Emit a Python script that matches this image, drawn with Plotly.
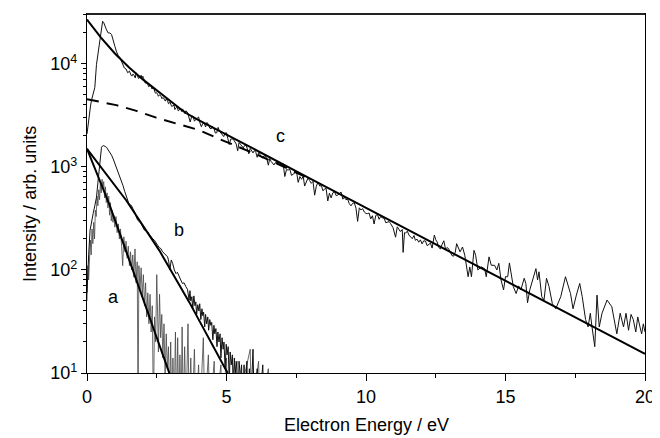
import math
import plotly.graph_objects as go

# ---------------- data ----------------
# spectrum c : (energy eV, intensity)
SPEC_C = [
    (0.00, 2090), (0.04, 2630), (0.08, 3470), (0.13, 3980), (0.17, 4540), (0.22, 5250),
    (0.28, 5890), (0.34, 9890), (0.40, 12600), (0.44, 15500), (0.48, 18600), (0.52, 22400),
    (0.56, 25900), (0.60, 25100), (0.64, 23200), (0.70, 21400), (0.76, 19950), (0.82, 19950),
    (0.88, 19300), (0.94, 17300), (1.00, 14800), (1.05, 13300), (1.12, 12000), (1.18, 11500),
    (1.23, 10700), (1.29, 9770), (1.34, 9120), (1.40, 8910), (1.46, 8200), (1.52, 8510),
    (1.58, 7760), (1.64, 7940), (1.70, 7590), (1.76, 8200), (1.82, 7590), (1.88, 7350),
    (1.94, 7760), (2.00, 7590), (2.06, 6920), (2.12, 6560), (2.18, 6310), (2.24, 6100),
    (2.30, 6170), (2.36, 5880), (2.42, 5500), (2.48, 5250), (2.53, 5070), (2.60, 5010),
    (2.66, 4790), (2.71, 4700), (2.78, 4470), (2.84, 4570), (2.89, 4370), (2.95, 4170),
    (3.00, 4070), (3.07, 3910), (3.12, 3980), (3.18, 3720), (3.24, 3770), (3.30, 3550),
    (3.36, 3720), (3.42, 3630), (3.48, 3390), (3.54, 3500),
    (1.55, 8000), (1.61, 7600), (1.67, 7900), (1.73, 7300), (1.79, 7900), (1.85, 7200),
    (1.91, 7500), (1.97, 7300), (2.03, 7200), (2.09, 6500), (2.15, 6500), (2.21, 6000),
    (2.27, 6200), (2.33, 5700), (2.39, 5800), (2.45, 5200), (2.51, 5200), (2.56, 4850),
    (2.63, 4950), (2.69, 4600), (2.75, 4650), (2.81, 4350), (2.87, 4500), (2.92, 4100),
    (2.98, 4250), (3.04, 3850), (3.10, 4000), (3.15, 3600), (3.21, 3800), (3.27, 3500),
    (3.33, 3700), (3.39, 3450), (3.45, 3600), (3.51, 3300), (3.57, 3450),
    (3.6, 3400), (3.7, 2730), (3.8, 3105), (3.9, 2870), (4.0, 3050), (4.1, 2450),
    (4.2, 2660), (4.3, 2700), (4.4, 2380), (4.5, 2470), (4.6, 2130), (4.7, 2420),
    (4.8, 2140), (4.9, 1970), (5.0, 2140), (5.1, 1650), (5.2, 1870), (5.3, 1730),
    (5.4, 1430), (5.5, 1660), (5.6, 1530), (5.7, 1630), (5.8, 1340), (5.9, 1455),
    (6.0, 1440), (6.1, 1240), (6.2, 1320), (6.3, 1220), (6.4, 1260), (6.5, 1040),
    (6.6, 1130), (6.7, 1045), (6.8, 1110),
    (3.65, 3045), (3.75, 3085), (3.85, 2786), (3.95, 2956), (4.05, 2670), (4.15, 2643),
    (4.25, 2443), (4.35, 2593), (4.45, 2341), (4.55, 2373), (4.65, 2143), (4.75, 2222),
    (4.85, 2054), (4.95, 2129), (5.05, 1879), (5.15, 1861), (5.25, 1843), (5.35, 1667),
    (5.45, 1726), (5.55, 1595), (5.65, 1616), (5.75, 1494), (5.85, 1514), (5.95, 1367),
    (6.05, 1385), (6.15, 1372), (6.25, 1239), (6.35, 1285), (6.45, 1187), (6.55, 1204),
    (6.65, 1087), (6.75, 1101),
    (6.86, 1096), (6.98, 1052), (7.09, 807), (7.21, 933), (7.33, 828), (7.45, 889),
    (7.57, 708), (7.69, 759), (7.80, 652), (7.92, 780), (8.04, 693), (8.16, 532),
    (8.28, 714), (8.40, 658), (8.51, 610), (8.63, 467), (8.75, 500), (8.87, 575),
    (8.99, 533), (9.11, 569), (9.22, 509), (9.34, 488), (9.46, 419), (9.58, 448),
    (9.70, 296), (9.82, 382), (9.94, 365), (10.05, 352), (10.17, 313), (10.29, 279),
    (10.41, 346), (10.53, 331), (10.65, 318), (10.77, 293), (10.88, 282), (11.06, 208),
    (11.18, 248), (11.26, 239), (11.33, 148), (11.42, 228), (11.54, 218), (11.66, 201),
    (11.77, 194), (11.89, 186), (12.01, 179), (12.13, 191), (12.25, 176), (12.37, 163),
    (12.45, 218), (12.55, 187), (12.67, 160), (12.79, 192), (12.90, 165), (13.02, 147),
    (13.14, 136),
    (6.92, 1042), (7.03, 1076), (7.15, 943), (7.27, 950), (7.39, 852), (7.51, 898),
    (7.63, 806), (7.75, 811), (7.86, 731), (7.98, 736), (8.10, 723), (8.22, 649),
    (8.34, 653), (8.46, 586), (8.57, 619), (8.69, 556), (8.81, 560), (8.93, 526),
    (9.05, 555), (9.17, 486), (9.28, 480), (9.40, 440), (9.52, 443), (9.64, 398),
    (9.76, 401), (9.88, 394), (10.00, 353), (10.11, 357), (10.23, 336), (10.35, 338),
    (10.47, 310), (10.59, 319), (10.71, 287), (10.83, 295), (10.97, 257), (11.12, 262),
    (11.22, 237), (11.30, 247), (11.38, 230), (11.48, 238), (11.60, 209), (11.72, 216),
    (11.83, 199), (11.95, 196), (12.07, 192), (12.19, 172), (12.31, 182), (12.41, 184),
    (12.50, 196), (12.61, 165), (12.73, 178), (12.85, 159), (12.96, 161), (13.08, 138),
    (13.20, 149),
    (13.25, 180), (13.37, 150), (13.46, 167), (13.54, 139), (13.66, 86), (13.72, 107),
    (13.78, 86), (13.87, 155), (13.93, 139), (14.01, 100), (14.13, 107), (14.25, 103),
    (14.31, 86), (14.41, 134), (14.49, 111), (14.61, 111), (14.69, 100), (14.76, 116),
    (14.84, 80), (14.93, 64), (15.00, 86), (15.08, 86), (15.14, 117), (15.20, 92),
    (15.28, 69), (15.38, 59), (15.47, 70), (15.55, 64), (15.67, 83), (15.73, 74),
    (15.79, 48), (15.87, 64), (15.97, 80), (16.09, 103), (16.15, 80), (16.20, 96),
    (16.30, 55), (16.38, 51), (16.47, 83), (16.56, 69), (16.68, 47), (16.80, 42),
    (16.98, 55), (17.15, 86), (17.33, 59), (17.42, 42), (17.54, 57), (17.66, 74),
    (17.75, 55), (17.87, 33), (17.96, 28), (18.04, 38), (18.10, 28), (18.20, 18),
    (18.28, 57), (18.36, 28), (18.46, 38), (18.64, 51), (18.81, 44), (18.99, 24),
    (19.11, 38), (19.23, 28), (19.32, 38), (19.41, 26), (19.50, 37), (19.58, 33),
    (19.67, 25), (19.74, 35), (19.82, 28), (19.88, 24), (19.94, 30), (20.00, 25),
]

# spectrum b
SPEC_B = [
    (0.00, 60), (0.03, 110), (0.06, 140), (0.11, 243), (0.16, 300), (0.22, 352),
    (0.28, 420), (0.34, 508), (0.39, 700), (0.44, 920), (0.48, 1200), (0.52, 1550),
    (0.56, 1600), (0.60, 1607), (0.65, 1580), (0.70, 1550), (0.76, 1460), (0.82, 1384),
    (0.88, 1300), (0.94, 1194), (1.00, 1080), (1.05, 991), (1.11, 900), (1.17, 824),
    (1.23, 740), (1.29, 659), (1.35, 580), (1.41, 508), (1.46, 470), (1.50, 440),
    (1.55, 430), (1.59, 423), (1.65, 390), (1.71, 364), (1.76, 330), (1.82, 303),
    (1.88, 295), (1.94, 281), (2.00, 260), (2.06, 243), (2.12, 240), (2.18, 233),
    (2.24, 220), (2.30, 209), (2.36, 200), (2.42, 194), (2.48, 180), (2.53, 174),
    (2.59, 165), (2.65, 161), (2.71, 150), (2.77, 144), (2.83, 140), (2.89, 134),
    (2.93, 120), (2.97, 100), (3.02, 125), (3.07, 116), (3.13, 100), (3.19, 92),
    (3.24, 95), (3.30, 86), (3.36, 80), (3.42, 74), (3.48, 75), (3.54, 69),
    (3.60, 65), (3.66, 51), (3.69, 63), (3.72, 50), (3.76, 55), (3.79, 42),
    (3.83, 56), (3.87, 45), (3.90, 49), (3.93, 37), (3.97, 46), (4.01, 40),
    (4.04, 47), (4.08, 33), (4.12, 42), (4.15, 36), (4.18, 39), (4.22, 28),
    (4.25, 37), (4.29, 30), (4.33, 35), (4.36, 26), (4.40, 33), (4.44, 29),
    (4.47, 31), (4.51, 21), (4.55, 29), (4.58, 24), (4.62, 27), (4.66, 18),
    (4.69, 25), (4.73, 20), (4.77, 24), (4.80, 14), (4.84, 22), (4.88, 17),
    (4.91, 20), (4.95, 11), (4.99, 19), (5.02, 15), (5.06, 18), (5.10, 8),
    (5.13, 16), (5.17, 12), (5.21, 15), (5.25, 6), (5.28, 14), (5.33, 10),
    (5.37, 13), (5.41, 4), (5.45, 13), (5.50, 9), (5.54, 12), (5.58, 4),
    (5.63, 12), (5.67, 4), (5.73, 13), (5.77, 4), (5.82, 11), (5.86, 4),
    (5.95, 17), (6.00, 4), (6.10, 11), (6.15, 4), (6.30, 12), (6.35, 4),
]

# spectrum a
SPEC_A = [
    (0.00, 50), (0.03, 110), (0.06, 80), (0.09, 160), (0.12, 195), (0.15, 140),
    (0.18, 250), (0.21, 180), (0.24, 290), (0.27, 200), (0.30, 380), (0.33, 330),
    (0.36, 520), (0.39, 420), (0.42, 600), (0.45, 480), (0.48, 700), (0.51, 560),
    (0.54, 760), (0.57, 620), (0.60, 720), (0.63, 500), (0.66, 640), (0.69, 450),
    (0.72, 560), (0.75, 400), (0.78, 520), (0.81, 340), (0.84, 450), (0.87, 300),
    (0.90, 380), (0.93, 290), (0.96, 340), (1.00, 260), (1.04, 330), (1.08, 230),
    (1.12, 280), (1.16, 200), (1.20, 250), (1.24, 170), (1.28, 110), (1.32, 210),
    (1.36, 150), (1.40, 190), (1.44, 130), (1.48, 170), (1.52, 110), (1.56, 150),
    (1.60, 100), (1.64, 140), (1.68, 85), (1.72, 160), (1.76, 75), (1.80, 120),
    (1.83, 4), (1.86, 110), (1.90, 65), (1.94, 105), (1.98, 55), (2.02, 90),
    (2.06, 45), (2.10, 75), (2.14, 35), (2.18, 60), (2.22, 30), (2.26, 58),
    (2.30, 25), (2.34, 45), (2.38, 4), (2.42, 35), (2.46, 20), (2.50, 90),
    (2.53, 28), (2.56, 16), (2.60, 58), (2.64, 22), (2.68, 37), (2.72, 14),
    (2.76, 30), (2.80, 9), (2.84, 24), (2.88, 11), (2.92, 18), (2.96, 5),
    (3.00, 20), (3.04, 4), (3.08, 14), (3.12, 4), (3.17, 25), (3.21, 4),
    (3.25, 22), (3.29, 4), (3.33, 15), (3.37, 4), (3.41, 28), (3.45, 4),
    (3.50, 18), (3.55, 4), (3.62, 30), (3.66, 4), (3.72, 14), (3.77, 4),
    (3.85, 17), (3.90, 4), (4.00, 12), (4.05, 4), (4.17, 22), (4.22, 4),
    (4.35, 15), (4.40, 4), (4.56, 13), (4.60, 4), (4.80, 12), (4.84, 4),
    (5.00, 14), (5.04, 4), (5.30, 13), (5.34, 4), (5.85, 17), (5.90, 4),
    (6.15, 13), (6.20, 4), (6.50, 11), (6.55, 4),
]

# fitted curves
FIT_C_X = [0, 0.5, 1, 1.5, 2, 2.5, 3, 3.5, 4, 5, 6, 8, 20]
FIT_C_Y = [26900, 18000, 12600, 9260, 7070, 5500, 4270, 3390, 2850, 2065, 1485, 771, 15.3]
FIT_C2_X = [0, 0.64, 1.05, 1.77, 2.48, 3.19, 3.66, 4.01, 4.9, 6, 7, 8]
FIT_C2_Y = [4540, 4210, 3980, 3500, 3010, 2640, 2420, 2280, 1790, 1350, 1020, 760]
FIT_B_X = [0, 1.41, 2.59, 3.66, 5.04]
FIT_B_Y = [1500, 472, 155, 49, 10]
FIT_A_X = [0, 0.82, 1.41, 2.95]
FIT_A_Y = [1500, 420, 150, 10]

LABELS = [("a", 0.96, 55), ("b", 3.30, 243), ("c", 6.92, 2005)]

X_TICKS = [0, 5, 10, 15, 20]
Y_TICKS = [10, 100, 1000, 10000]
Y_TICK_TEXT = ["10<sup>1</sup>", "10<sup>2</sup>", "10<sup>3</sup>", "10<sup>4</sup>"]
Y_MINOR = [m * d for d in (10, 100, 1000, 10000) for m in range(2, 10)]

FONT = "Liberation Sans, Arial, Helvetica, sans-serif"

fig = go.Figure()


def add_spec(pts, color, width):
    pts = sorted(pts)
    xs = [p[0] for p in pts]
    ys = [p[1] for p in pts]
    fig.add_trace(go.Scatter(x=xs, y=ys, mode="lines",
                             line=dict(color=color, width=width), hoverinfo="skip"))


add_spec(SPEC_A, "#444444", 0.8)
add_spec(SPEC_B, "#111111", 1.0)
add_spec(SPEC_C, "#111111", 1.0)

fig.add_trace(go.Scatter(x=FIT_C2_X, y=FIT_C2_Y, mode="lines",
                         line=dict(color="black", width=2, dash="12px,8px")))
for fx, fy in ((FIT_C_X, FIT_C_Y), (FIT_B_X, FIT_B_Y), (FIT_A_X, FIT_A_Y)):
    fig.add_trace(go.Scatter(x=fx, y=fy, mode="lines", line=dict(color="black", width=2)))

for txt, lx, ly in LABELS:
    fig.add_annotation(x=lx, y=math.log10(ly), xref="x", yref="y", text=txt,
                       showarrow=False, font=dict(size=18, color="black", family=FONT))

fig.add_annotation(x=0.5, y=-0.144, xref="paper", yref="paper", text="Electron Energy / eV",
                   showarrow=False, xanchor="center", yanchor="middle",
                   font=dict(size=18, color="black", family=FONT))
fig.add_annotation(x=-0.101, y=0.47, xref="paper", yref="paper", text="Intensity / arb. units",
                   showarrow=False, xanchor="center", yanchor="middle", textangle=-90,
                   font=dict(size=18, color="black", family=FONT))

# thicker top frame line
fig.add_shape(type="line", xref="paper", yref="paper", x0=0, x1=1, y0=1, y1=1,
              line=dict(color="#222222", width=2))

fig.update_layout(
    width=652, height=430,
    margin=dict(l=79, r=11, t=5, b=65),
    paper_bgcolor="white", plot_bgcolor="white",
    showlegend=False,
    font=dict(family=FONT, color="black", size=18),
    xaxis=dict(range=[0, 20], tickvals=X_TICKS, ticks="outside", ticklen=7, tickwidth=1,
               tickcolor="black", showline=True, linecolor="black", linewidth=1.2,
               mirror=True, showgrid=False, zeroline=False,
               tickfont=dict(size=18, family=FONT),
               minor=dict(dtick=2.5, ticks="outside", ticklen=4, tickwidth=1,
                          tickcolor="black", showgrid=False)),
    yaxis=dict(type="log", range=[1, 4.484], tickvals=Y_TICKS, ticktext=Y_TICK_TEXT,
               ticks="outside", ticklen=5, tickwidth=1, tickcolor="black",
               showline=True, linecolor="black", linewidth=1.2, mirror=True,
               showgrid=False, zeroline=False, tickfont=dict(size=18, family=FONT),
               minor=dict(tickvals=Y_MINOR, ticks="outside", ticklen=3, tickwidth=1,
                          tickcolor="black", showgrid=False)),
)

fig.write_html("out.html")
